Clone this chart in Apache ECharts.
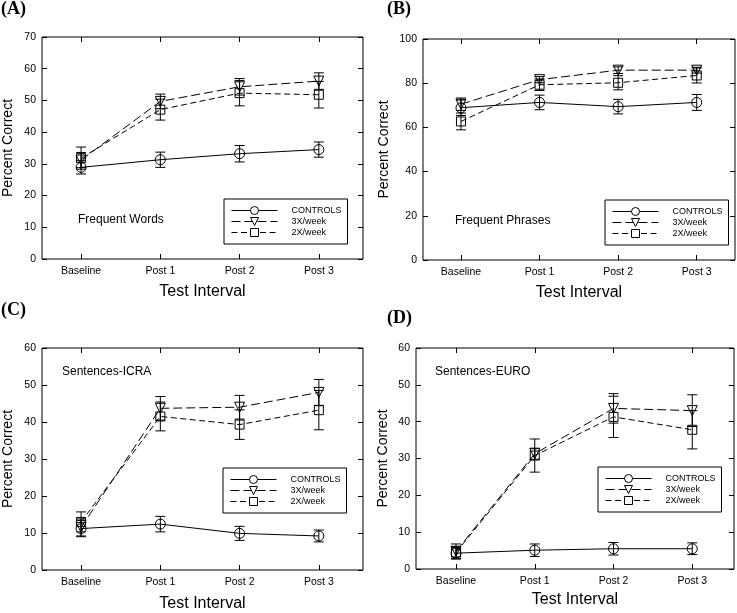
<!DOCTYPE html>
<html>
<head>
<meta charset="utf-8">
<script src="https://cdn.jsdelivr.net/npm/echarts@6/dist/echarts.min.js"></script>
<style>
html,body{margin:0;padding:0;background:#fff;}
#chart{width:737px;height:613px;}
</style>
</head>
<body>
<div id="chart"></div>
<script>
// ---- data ----
const categories = ['Baseline', 'Post 1', 'Post 2', 'Post 3'];
const seriesNames = ['CONTROLS', '3X/week', '2X/week'];

// Panel A: Frequent Words
const A_controls = [28.9, 31.3, 33.2, 34.5];
const A_controls_err = [2.1, 2.4, 2.6, 2.4];
const A_x3 = [31.2, 49.7, 54.3, 56.1];
const A_x3_err = [2.4, 2.3, 2.6, 2.6];
const A_x2 = [31.8, 47.1, 52.3, 51.8];
const A_x2_err = [3.5, 3.3, 4.0, 4.2];

// Panel B: Frequent Phrases
const B_controls = [68.9, 71.3, 69.4, 71.3];
const B_controls_err = [3.5, 3.3, 3.3, 3.6];
const B_x3 = [70.5, 81.6, 85.9, 85.9];
const B_x3_err = [2.8, 1.4, 1.5, 1.3];
const B_x2 = [62.7, 79.3, 80.2, 83.5];
const B_x2_err = [3.8, 2.6, 3.2, 3.4];

// Panel C: Sentences-ICRA
const C_controls = [11.2, 12.4, 9.9, 9.2];
const C_controls_err = [2.2, 2.1, 1.9, 1.6];
const C_x3 = [11.5, 43.7, 44.0, 48.0];
const C_x3_err = [2.3, 3.2, 3.2, 3.5];
const C_x2 = [13.0, 41.5, 39.3, 43.2];
const C_x2_err = [2.7, 3.9, 4.0, 5.3];

// Panel D: Sentences-EURO
const D_controls = [4.3, 5.1, 5.5, 5.5];
const D_controls_err = [1.6, 1.7, 1.7, 1.6];
const D_x3 = [4.8, 31.3, 43.6, 43.0];
const D_x3_err = [2.0, 1.5, 4.0, 4.3];
const D_x2 = [4.5, 30.8, 41.3, 37.8];
const D_x2_err = [1.6, 4.5, 5.6, 5.2];

// y axis ranges / ticks
const yMax = [70, 100, 60, 60];
const yStep = [10, 20, 10, 10];
const panelLetters = ['(A)', '(B)', '(C)', '(D)'];
const panelNotes = ['Frequent Words', 'Frequent Phrases', 'Sentences-ICRA', 'Sentences-EURO'];

// ---- layout ----
const FONT = '"Liberation Sans", Arial, sans-serif';
const panels = [
  {grid: {left: 40, top: 37, width: 323, height: 222}, xmin: -0.493, xmax: 3.557, ynameGap: 27, xnameGap: 25,
   legend: {left: 224, top: 199}, note: [78, 221], title: [1, 10],
   data: [[A_controls, A_controls_err], [A_x3, A_x3_err], [A_x2, A_x2_err]]},
  {grid: {left: 423, top: 39, width: 312, height: 221}, xmin: -0.483, xmax: 3.487, ynameGap: 32, xnameGap: 25,
   legend: {left: 605, top: 200}, note: [455, 222], title: [387, 10],
   data: [[B_controls, B_controls_err], [B_x3, B_x3_err], [B_x2, B_x2_err]]},
  {grid: {left: 40, top: 348, width: 323, height: 222}, xmin: -0.493, xmax: 3.557, ynameGap: 27, xnameGap: 26,
   legend: {left: 223, top: 468}, note: [62, 373], title: [1, 311],
   data: [[C_controls, C_controls_err], [C_x3, C_x3_err], [C_x2, C_x2_err]]},
  {grid: {left: 416, top: 348, width: 318, height: 221}, xmin: -0.508, xmax: 3.53, ynameGap: 26, xnameGap: 23,
   legend: {left: 598, top: 467}, note: [435, 373], title: [387, 319],
   data: [[D_controls, D_controls_err], [D_x3, D_x3_err], [D_x2, D_x2_err]]}
];

const symbols = [
  {symbol: 'circle', size: 10, rotate: 0, dash: 'solid'},
  {symbol: 'triangle', size: 10, rotate: 180, dash: [9, 4]},
  {symbol: 'rect', size: 9, rotate: 0, dash: [6, 3.5]}
];

const grids = [], xAxes = [], yAxes = [], series = [], legends = [], graphics = [];
const tickVals = categories.map((c, i) => i);
const noLine = {show: false, onZero: false};

panels.forEach((p, pi) => {
  grids.push(Object.assign({show: true, borderColor: '#000', borderWidth: 1, backgroundColor: 'transparent', containLabel: false}, p.grid));
  const xBase = {type: 'value', gridIndex: pi, min: p.xmin, max: p.xmax, splitLine: {show: false}, axisLine: noLine};
  xAxes.push(Object.assign({}, xBase, {
    position: 'bottom',
    axisTick: {show: true, inside: true, length: 5, lineStyle: {color: '#000'}, customValues: tickVals},
    axisLabel: {show: true, customValues: tickVals, margin: 7, color: '#000', fontSize: 10.5, fontFamily: FONT,
      formatter: v => categories[Math.round(v)] !== undefined && Math.abs(v - Math.round(v)) < 1e-6 ? categories[Math.round(v)] : ''},
    name: 'Test Interval', nameLocation: 'middle', nameGap: p.xnameGap,
    nameTextStyle: {color: '#000', fontSize: 16, fontFamily: FONT}
  }));
  xAxes.push(Object.assign({}, xBase, {
    position: 'top',
    axisTick: {show: true, inside: true, length: 5, lineStyle: {color: '#000'}, customValues: tickVals},
    axisLabel: {show: false}
  }));
  const yBase = {type: 'value', gridIndex: pi, min: 0, max: yMax[pi], interval: yStep[pi], splitLine: {show: false}, axisLine: noLine};
  yAxes.push(Object.assign({}, yBase, {
    position: 'left',
    axisTick: {show: true, inside: true, length: 5, lineStyle: {color: '#000'}},
    axisLabel: {show: true, margin: 6, color: '#000', fontSize: 10.5, fontFamily: FONT},
    name: 'Percent Correct', nameLocation: 'middle', nameGap: p.ynameGap,
    nameTextStyle: {color: '#000', fontSize: 14, fontFamily: FONT}
  }));
  yAxes.push(Object.assign({}, yBase, {
    position: 'right',
    axisTick: {show: true, inside: true, length: 5, lineStyle: {color: '#000'}},
    axisLabel: {show: false}
  }));

  p.data.forEach((d, si) => {
    const vals = d[0], errs = d[1];
    const s = symbols[si];
    series.push({
      type: 'custom',
      name: 'err-' + pi + '-' + si,
      xAxisIndex: pi * 2, yAxisIndex: pi * 2,
      data: vals.map((v, i) => [i, v - errs[i], v + errs[i]]),
      encode: {x: 0, y: [1, 2]},
      silent: true,
      z: 3,
      renderItem: function (params, api) {
        const x = api.value(0);
        const top = api.coord([x, api.value(2)]);
        const bot = api.coord([x, api.value(1)]);
        const w = 5;
        const st = {stroke: '#000', lineWidth: 1, fill: null};
        return {type: 'group', children: [
          {type: 'line', shape: {x1: top[0], y1: top[1], x2: bot[0], y2: bot[1]}, style: st},
          {type: 'line', shape: {x1: top[0] - w, y1: top[1], x2: top[0] + w, y2: top[1]}, style: st},
          {type: 'line', shape: {x1: bot[0] - w, y1: bot[1], x2: bot[0] + w, y2: bot[1]}, style: st}
        ]};
      }
    });
    series.push({
      type: 'line',
      name: seriesNames[si],
      xAxisIndex: pi * 2, yAxisIndex: pi * 2,
      data: vals.map((v, i) => [i, v]),
      symbol: s.symbol, symbolSize: s.size, symbolRotate: s.rotate,
      showSymbol: true,
      itemStyle: {color: 'rgba(255,255,255,0)', borderColor: '#000', borderWidth: 1},
      lineStyle: {color: '#000', width: 1, type: s.dash},
      emphasis: {disabled: true},
      z: 4
    });
  });

  legends.push({
    data: seriesNames.map((n, si) => ({
      name: n,
      itemStyle: {color: '#fff', borderColor: '#000', borderWidth: 1},
      lineStyle: {color: '#000', width: 1, type: symbols[si].dash}
    })),
    orient: 'vertical',
    left: p.legend.left, top: p.legend.top,
    padding: [7, 6, 7, 7],
    itemWidth: 46, itemHeight: 10, itemGap: 2,
    borderColor: '#000', borderWidth: 1,
    selectedMode: false,
    textStyle: {color: '#000', fontSize: 9, fontFamily: FONT, padding: [0, 0, 0, 9]}
  });

  graphics.push({
    type: 'text', left: p.note[0], top: p.note[1] - 7,
    style: {text: panelNotes[pi], fill: '#000', font: '12px ' + FONT}
  });
  graphics.push({
    type: 'text', left: p.title[0], top: p.title[1] - 10,
    style: {text: panelLetters[pi], fill: '#000', font: 'bold 18px "Liberation Serif", "Times New Roman", serif'}
  });
});

const chart = echarts.init(document.getElementById('chart'), null, {renderer: 'canvas'});
chart.setOption({
  animation: false,
  backgroundColor: '#fff',
  grid: grids,
  xAxis: xAxes,
  yAxis: yAxes,
  legend: legends,
  series: series,
  graphic: graphics
});
</script>
</body>
</html>
